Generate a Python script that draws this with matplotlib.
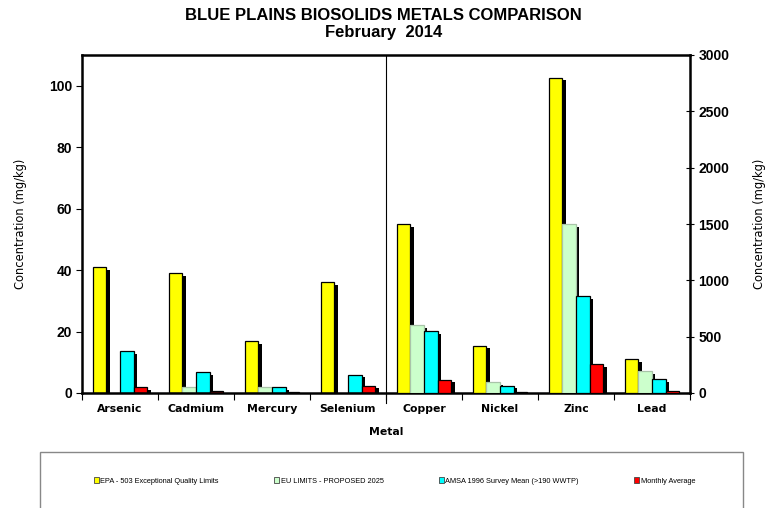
import numpy as np
import matplotlib
matplotlib.use("Agg")
import matplotlib.pyplot as plt
import matplotlib.patheffects as pe
from matplotlib.patches import Patch, Rectangle

# data (mg/kg)
metals_low = ["Arsenic", "Cadmium", "Mercury", "Selenium"]   # left axis
metals_high = ["Copper", "Nickel", "Zinc", "Lead"]           # right axis

epa_low = [41, 39, 17, 36]
eu_low = [0, 2, 2, 0]
amsa_low = [13.6, 6.8, 1.9, 6.0]
monthly_low = [1.8, 0.75, 0.2, 2.4]

epa_high = [1500, 420, 2800, 300]
eu_high = [600, 95, 1500, 192]
amsa_high = [548, 65, 858, 120]
monthly_high = [118, 12, 257, 14]

series = ["EPA - 503 Exceptional Quality Limits", "EU LIMITS - PROPOSED 2025",
          "AMSA 1996 Survey Mean (>190 WWTP)", "Monthly Average"]
colors = ["#FFFF00", "#CCFFCC", "#00FFFF", "#FF0000"]
edges = ["black", "#a9c4a9", "black", "black"]

fig = plt.figure(figsize=(7.67, 5.08), dpi=100)
ax = fig.add_axes([82 / 767, 1 - 393 / 508, 608 / 767, 338 / 508])
ax2 = ax.twinx()

shadow = [pe.SimplePatchShadow(offset=(2.4, -2.0), shadow_rgbFace="black", alpha=1), pe.Normal()]
w = 0.18
offsets = (np.arange(4) - 1.5) * w

x_low = np.arange(4)
x_high = np.arange(4, 8)
for i, vals in enumerate([epa_low, eu_low, amsa_low, monthly_low]):
    v = np.array(vals, dtype=float)
    m = v > 0
    ax.bar(x_low[m] + offsets[i], v[m], w, color=colors[i], edgecolor=edges[i],
           linewidth=0.9, path_effects=shadow, zorder=2)
for i, vals in enumerate([epa_high, eu_high, amsa_high, monthly_high]):
    v = np.array(vals, dtype=float)
    m = v > 0
    ax2.bar(x_high[m] + offsets[i], v[m], w, color=colors[i], edgecolor=edges[i],
            linewidth=0.9, path_effects=shadow, zorder=2)

ax.set_xlim(-0.5, 7.5)
ax.set_ylim(0, 110)
ax2.set_ylim(0, 3000)

# divider between the two scales
ax.plot([3.5, 3.5], [0, 110], color="black", lw=0.8, zorder=3)
ax.plot([3.5, 3.5], [0, -3.2], color="black", lw=0.8, clip_on=False)

for s in ax.spines.values():
    s.set_linewidth(1.8)
for s in ax2.spines.values():
    s.set_visible(False)

ax.set_yticks(np.arange(0, 101, 20))
ax2.set_yticks(np.arange(0, 3001, 500))
ax.tick_params(axis="y", direction="out", length=4, width=0.8, pad=3,
               labelsize=10)
ax2.tick_params(axis="y", direction="inout", length=6, width=0.8, pad=3,
                labelsize=10)
for lab in ax.get_yticklabels() + ax2.get_yticklabels():
    lab.set_fontweight("bold")
    lab.set_family("Liberation Sans")

ax.set_xticks(np.arange(8))
ax.set_xticklabels(metals_low + metals_high, fontsize=7.8, fontweight="bold",
                   family="DejaVu Sans")
ax.set_xticks(np.arange(-0.5, 8, 1), minor=True)
ax.tick_params(axis="x", which="major", length=0, pad=8)
ax.tick_params(axis="x", which="minor", direction="out", length=5, width=0.8)

ax.set_xlabel("Metal", fontsize=7.8, fontweight="bold", family="DejaVu Sans", labelpad=9)
ax.set_ylabel("Concentration (mg/kg)", fontsize=8.3, family="DejaVu Sans", labelpad=16)
ax2.set_ylabel("Concentration (mg/kg)", fontsize=8.3, family="DejaVu Sans", labelpad=17)

fig.text(0.5, 1 - 15 / 508, "BLUE PLAINS BIOSOLIDS METALS COMPARISON", ha="center", va="center",
         fontsize=12, fontweight="bold", family="Liberation Sans")
fig.text(0.5, 1 - 32 / 508, "February  2014", ha="center", va="center",
         fontsize=12, fontweight="bold", family="Liberation Sans")

# legend box (runs off the bottom of the figure)
fig.patches.append(Rectangle((40 / 767, -0.05), 703 / 767, 0.05 + 56 / 508,
                             transform=fig.transFigure, fill=False,
                             edgecolor="#888888", linewidth=1))
handles = [Patch(facecolor=c, edgecolor="#444444", linewidth=0.6) for c in colors]
fig.legend(handles, series, loc="center left", bbox_to_anchor=(90 / 767, 27 / 508),
           ncol=4, frameon=False, borderpad=0, handlelength=0.7,
           handleheight=0.7, handletextpad=0.2, columnspacing=7.5,
           prop={"family": "Liberation Sans", "size": 5.3})

fig.savefig("out.png", dpi=100)
